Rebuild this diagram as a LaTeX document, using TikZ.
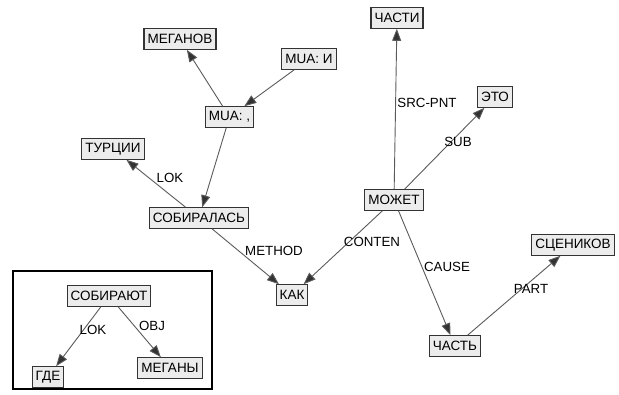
\documentclass[tikz,border=0pt]{standalone}
\usepackage{fontspec}
\setmainfont{Liberation Sans}
\usetikzlibrary{arrows.meta}
\definecolor{nodefill}{HTML}{ECECEC}
\definecolor{nodeline}{HTML}{333333}
\definecolor{edgeline}{HTML}{5A5A5A}
\definecolor{tipcol}{HTML}{333333}
\begin{document}
\begin{tikzpicture}[x=1pt,y=-1pt,
  wbox/.style={draw=nodeline, fill=nodefill, line width=1.1pt, inner xsep=3.5pt, inner ysep=0pt,
    minimum height=20.5pt, font=\fontsize{13.5}{15}\selectfont},
  rel/.style={draw=edgeline, line width=0.9pt, -{Triangle[length=12pt,width=9pt,fill=tipcol]}},
  lbl/.style={font=\fontsize{13.3}{15}\selectfont, inner sep=0pt}]
\useasboundingbox (0,0) rectangle (619,394);
% inset frame
\draw[line width=2pt] (13,271) rectangle (212,389);
% nodes
\node[wbox] (meganov) at (180,39) {МЕГАНОВ};
\node[wbox] (muai) at (309,59) {MUA: И};
\node[wbox] (muac) at (229.5,117) {MUA: ,};
\node[wbox] (turcii) at (113,149) {ТУРЦИИ};
\node[wbox] (sobiralas) at (199,218) {СОБИРАЛАСЬ};
\node[wbox] (kak) at (292,295) {КАК};
\node[wbox] (chasti) at (397,18) {ЧАСТИ};
\node[wbox] (eto) at (495,97) {ЭТО};
\node[wbox] (mozhet) at (394,200) {МОЖЕТ};
\node[wbox] (scenikov) at (573,245) {СЦЕНИКОВ};
\node[wbox] (chast) at (455,346) {ЧАСТЬ};
\node[wbox] (sobirayut) at (109,296) {СОБИРАЮТ};
\node[wbox] (gde) at (48,377) {ГДЕ};
\node[wbox] (megany) at (170,368) {МЕГАНЫ};
% edges
\draw[rel] (muac) -- (meganov);
\draw[rel] (muai) -- (muac);
\draw[rel] (muac) -- (sobiralas);
\draw[rel] (sobiralas) -- (turcii);
\draw[rel] (sobiralas) -- (kak);
\draw[rel] (mozhet) -- (kak);
\draw[rel] (mozhet) -- (chasti);
\draw[rel] (mozhet) -- (eto);
\draw[rel] (mozhet) -- (chast);
\draw[rel] (chast) -- (scenikov);
\draw[rel] (sobirayut) -- (gde);
\draw[rel] (sobirayut) -- (megany);
% labels
\node[lbl] (l1) at (170,178) {LOK};
\node[lbl] (l2) at (274,251) {METHOD};
\node[lbl] (l3) at (372,242) {CONTEN};
\node[lbl] (l4) at (427,103) {SRC-PNT};
\node[lbl] (l5) at (458,142) {SUB};
\node[lbl] (l6) at (447,267) {CAUSE};
\node[lbl] (l7) at (531,289) {PART};
\node[lbl] (l8) at (93,330) {LOK};
\node[lbl] (l9) at (152,326) {OBJ};
\end{tikzpicture}
\end{document}
